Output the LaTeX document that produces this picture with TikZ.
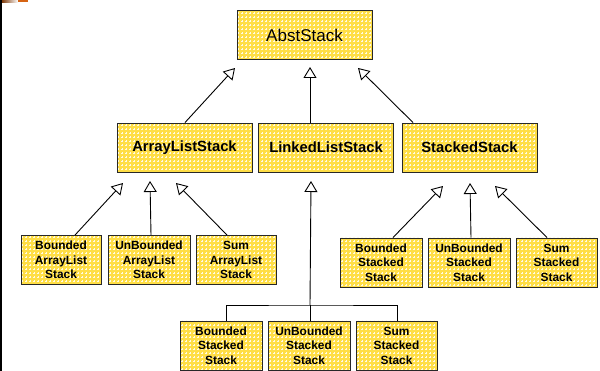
\documentclass[tikz,border=0pt]{standalone}
\usepackage{fontspec}
\setmainfont{Liberation Sans}
\usetikzlibrary{arrows.meta,patterns}

% small white crosses laid over the yellow fill of every class box
\pgfdeclarepatternformonly{whitecross}{\pgfpoint{-0.5pt}{-0.5pt}}{\pgfpoint{4.5pt}{4.5pt}}{\pgfpoint{4pt}{4pt}}{%
  \pgfsetlinewidth{0.9pt}%
  \pgfpathmoveto{\pgfpoint{2pt}{1pt}}\pgfpathlineto{\pgfpoint{2pt}{3pt}}%
  \pgfpathmoveto{\pgfpoint{1pt}{2pt}}\pgfpathlineto{\pgfpoint{3pt}{2pt}}%
  \pgfusepath{stroke}}

\definecolor{boxyellow}{RGB}{255,222,70}
\definecolor{boxline}{RGB}{40,40,40}
\definecolor{barorange}{RGB}{214,100,20}

\tikzset{
  classbox/.style={preaction={fill=boxyellow},
    pattern=whitecross, pattern color=white!85!boxyellow,
    draw=boxline, line width=0.9pt,
    minimum height=49pt, inner sep=0pt, align=center},
  topclass/.style={classbox, minimum width=135pt, font=\fontsize{17}{20}\selectfont},
  midclass/.style={classbox, minimum width=135pt, font=\fontsize{14.8}{17}\selectfont\bfseries},
  leafclass/.style={classbox, minimum width=81pt, font=\fontsize{11.9}{14.5}\selectfont\bfseries},
  inherit/.style={draw=black, line width=0.9pt,
    -{Triangle[open, length=11pt, width=13pt, line width=0.9pt]}},
  plain/.style={draw=black, line width=0.9pt}
}

\begin{document}
\begin{tikzpicture}[x=1pt, y=-1pt]
\useasboundingbox (0,0) rectangle (600,371);

% frame marks at the left edge and top corner
\fill[black] (0,0) rectangle (2,371);
\shade[left color=barorange!60!black, right color=white] (2,0) rectangle (18,2.2);
\fill[barorange] (18,0) rectangle (28,2.2);

% class boxes
\node[topclass] (abst) at (304.5,35) {AbstStack};

\node[midclass] (als) at (184.5,147.5) {ArrayListStack};
\node[midclass] (lls) at (326,147.5) {LinkedListStack};
\node[midclass] (sts) at (469.5,147.5) {StackedStack};

\node[leafclass, minimum width=80pt] (balst) at (61,260) {Bounded\\ArrayList\\Stack};
\node[leafclass, minimum width=82pt] (ualst) at (149,260) {UnBounded\\ArrayList\\Stack};
\node[leafclass, minimum width=80pt] (salst) at (236,260) {Sum\\ArrayList\\Stack};

\node[leafclass, minimum width=82pt] (bsst) at (381,262.5) {Bounded\\Stacked\\Stack};
\node[leafclass, minimum width=82pt] (usst) at (469,262.5) {UnBounded\\Stacked\\Stack};
\node[leafclass, minimum width=81pt] (ssst) at (556.5,262.5) {Sum\\Stacked\\Stack};

\node[leafclass, minimum width=82pt] (bllst) at (221,345.5) {Bounded\\Stacked\\Stack};
\node[leafclass, minimum width=82pt] (ullst) at (309,345.5) {UnBounded\\Stacked\\Stack};
\node[leafclass, minimum width=81pt] (sllst) at (396.5,345.5) {Sum\\Stacked\\Stack};

% arrow tips, just clear of the parent boxes
\coordinate (abstL) at (235,68);
\coordinate (abstM) at (310,67);
\coordinate (abstR) at (358,68);
\coordinate (alsL) at (123,183);
\coordinate (alsM) at (150,181);
\coordinate (alsR) at (176,183);
\coordinate (llsM) at (311,181);
\coordinate (stsL) at (443,186);
\coordinate (stsM) at (470,183);
\coordinate (stsR) at (495,186);
\coordinate (bus) at (310,305);

% generalisation arrows
\draw[inherit] (als.north -| 185,0) -- (abstL);
\draw[inherit] (lls.north -| 310,0) -- (abstM);
\draw[inherit] (sts.north -| 413,0) -- (abstR);

\draw[inherit] (balst.north -| 75,0) -- (alsL);
\draw[inherit] (ualst.north -| 151,0) -- (alsM);
\draw[inherit] (salst.north -| 227,0) -- (alsR);

\draw[inherit] (bsst.north -| 393,0) -- (stsL);
\draw[inherit] (usst.north -| 471,0) -- (stsM);
\draw[inherit] (ssst.north -| 547,0) -- (stsR);

% shared trunk for the lower row
\draw[inherit] (bus) -- (llsM);
\draw[plain] (bllst.north -| 226,0) |- (bus) -| (sllst.north -| 397,0);
\draw[plain] (ullst.north -| 310,0) -- (bus);
\end{tikzpicture}
\end{document}
